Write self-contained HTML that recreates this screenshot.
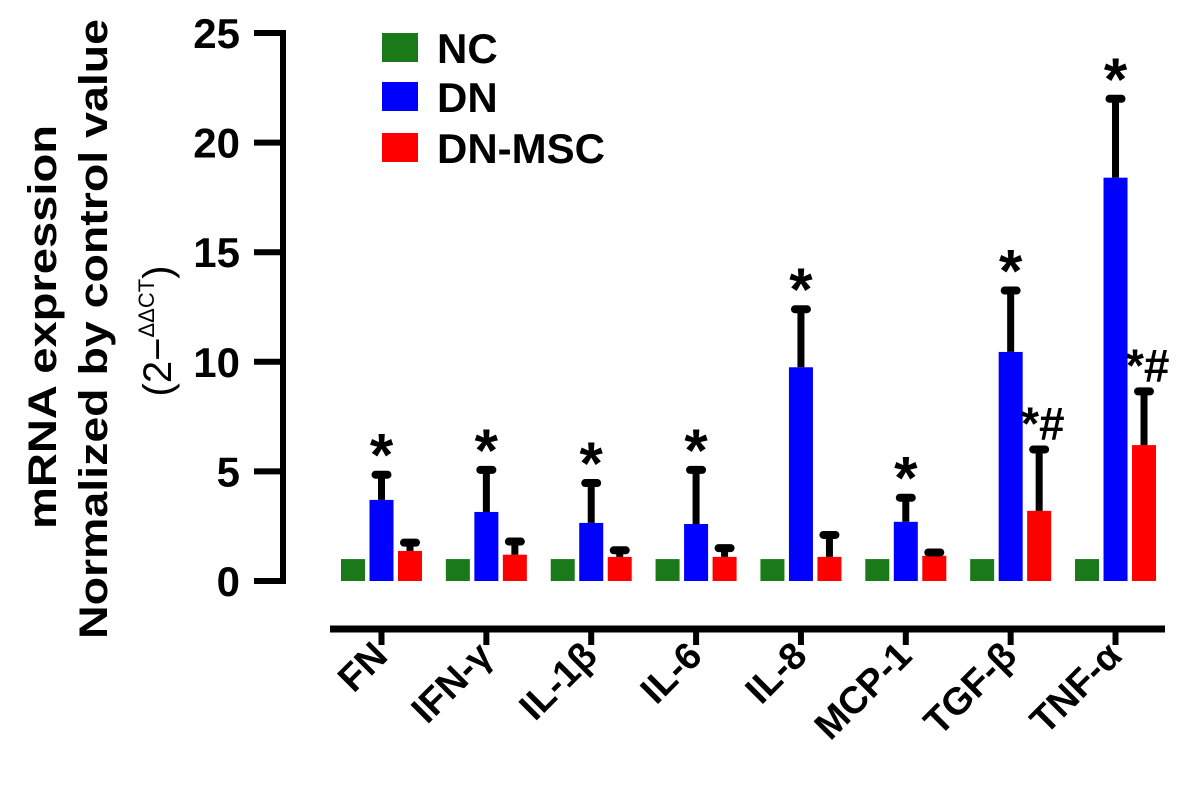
<!DOCTYPE html>
<html><head><meta charset="utf-8"><style>
html,body{margin:0;padding:0;background:#fff;}
svg{display:block;font-family:"Liberation Sans",Arial,sans-serif;}
</style></head><body>
<svg id="chart" width="1181" height="789" viewBox="0 0 1181 789" xmlns="http://www.w3.org/2000/svg">
<g id="ytitle" font-weight="bold" fill="#000">
  <text transform="translate(56,327) rotate(-90)" text-anchor="middle" font-size="40" textLength="404" lengthAdjust="spacingAndGlyphs">mRNA expression</text>
  <text transform="translate(107,329) rotate(-90)" text-anchor="middle" font-size="40" textLength="620" lengthAdjust="spacingAndGlyphs">Normalized by control value</text>
  <text transform="translate(171,331) rotate(-90)" text-anchor="middle" font-size="40" font-weight="normal">(2−<tspan font-size="22" dy="-17">ΔΔCT</tspan><tspan dy="17">)</tspan></text>
</g>
<g id="yaxis"></g>
<g id="xaxis"></g>
<g id="bars"></g>
<g id="legend"></g>
</svg>
<script>
const categories = ["FN","IFN-γ","IL-1β","IL-6","IL-8","MCP-1","TGF-β","TNF-α"];
const seriesNames = ["NC","DN","DN-MSC"];
const ncValues = [1,1,1,1,1,1,1,1];
const dnValues = [3.7,3.15,2.65,2.6,9.75,2.7,10.45,18.4];
const dnErr = [4.85,5.07,4.47,5.07,12.4,3.8,13.25,22.0];
const mscValues = [1.37,1.2,1.1,1.1,1.1,1.15,3.2,6.2];
const mscErr = [1.75,1.8,1.4,1.5,2.1,1.3,6.0,8.65];
const dnMarks = ["*","*","*","*","*","*","*","*"];
const mscMarks = ["","","","","","","*#","*#"];
const yTicks = [0,5,10,15,20,25];
const colors = ["#1a7a1a","#0000ff","#ff0000"];

const NS = "http://www.w3.org/2000/svg";
const y0 = 581, y1 = 33, yMax = 25;
function yScale(v){ return y0 - (v / yMax) * (y0 - y1); }
const groupStart = 341, groupStep = 104.86, barW = 24, barOff = [0, 28.5, 57];
function xBar(i, s){ return groupStart + i * groupStep + barOff[s]; }
function mk(tag, attrs, parent){ const e = document.createElementNS(NS, tag); for (const k in attrs) e.setAttribute(k, attrs[k]); parent.appendChild(e); return e; }

const yaxis = document.getElementById('yaxis');
let yl = mk('line', {x1:283, y1:y1-3, x2:283, y2:y0+3, stroke:'#000','stroke-width':6}, yaxis);


yTicks.forEach(t => {
  const y = yScale(t);
  const tk = mk('line', {x1:254, y1:y, x2:286, y2:y, stroke:'#000','stroke-width':6}, yaxis);
  
  
  const lb = mk('text', {x:240, y:y+15, 'text-anchor':'end', 'font-size':42, 'font-weight':'bold'}, yaxis);
  lb.textContent = t;
  
  
});

const xaxis = document.getElementById('xaxis');
let xl = mk('line', {x1:330, y1:629, x2:1165, y2:629, stroke:'#000','stroke-width':7}, xaxis);


categories.forEach((c, i) => {
  const cx = xBar(i, 1) + barW / 2;
  const tk = mk('line', {x1:cx, y1:629, x2:cx, y2:645, stroke:'#000','stroke-width':6}, xaxis);
  
  
  const lb = mk('text', {transform:`translate(${cx+8},${658}) rotate(-45)`, 'text-anchor':'end', 'font-size':38, 'font-weight':'bold'}, xaxis);
  lb.textContent = c;
  
  
});

const bars = document.getElementById('bars');
function errBar(x, vTop, eTop){
  const cx = x + barW / 2;
  const l = mk('line', {x1:cx, y1:yScale(vTop), x2:cx, y2:yScale(eTop), stroke:'#000','stroke-width':7}, bars);
  
  
  const cap = mk('line', {x1:cx-6, y1:yScale(eTop), x2:cx+6, y2:yScale(eTop), stroke:'#000','stroke-width':8,'stroke-linecap':'round'}, bars);
  
  
}
categories.forEach((c, i) => {
  [ncValues, dnValues, mscValues].forEach((vals, s) => {
    const x = xBar(i, s);
    const r = mk('rect', {x:x, y:yScale(vals[i]), width:barW, height:y0 - yScale(vals[i]), fill:colors[s]}, bars);
    
    
  });
  errBar(xBar(i, 1), dnValues[i], dnErr[i]);
  errBar(xBar(i, 2), mscValues[i], mscErr[i]);
  if (dnMarks[i]) {
    const t = mk('text', {x:xBar(i,1)+barW/2, y:yScale(dnErr[i])+1, 'text-anchor':'middle', 'font-size':60, 'font-weight':'bold'}, bars);
    t.textContent = dnMarks[i];
    
    
  }
  if (mscMarks[i]) {
    const t = mk('text', {x:xBar(i,2)-6, y:yScale(mscErr[i])-10, 'text-anchor':'start', 'font-size':46, 'font-weight':'bold'}, bars);
    t.textContent = mscMarks[i];
    
    
  }
});

const legend = document.getElementById('legend');
const legY = [33, 82, 133];
seriesNames.forEach((n, s) => {
  const r = mk('rect', {x:382, y:legY[s], width:36, height:29, fill:colors[s]}, legend);
  
  
  const t = mk('text', {x:437, y:legY[s]+30, 'font-size':42, 'font-weight':'bold'}, legend);
  t.textContent = n;
  
  
});
</script>
</body></html>
